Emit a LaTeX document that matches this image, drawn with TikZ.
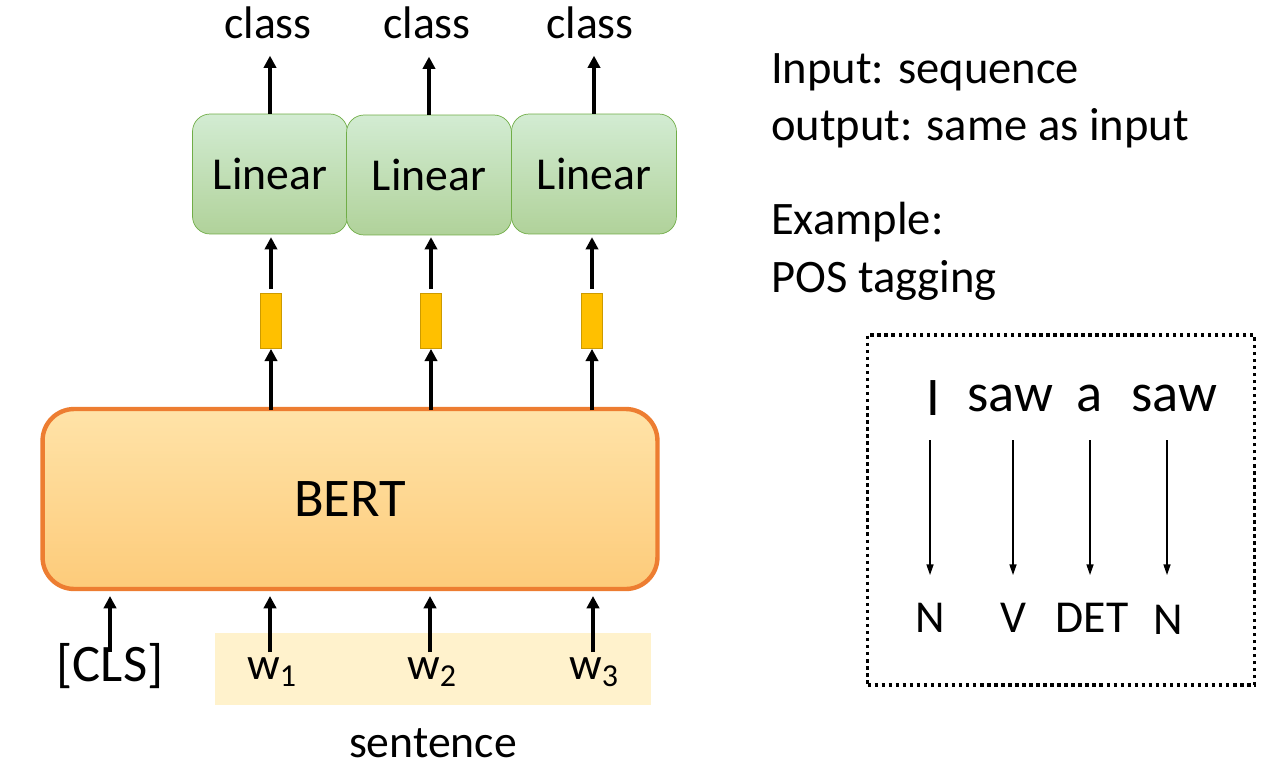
\documentclass[tikz,border=0pt]{standalone}
\usepackage{fontspec}
\setmainfont{Carlito}
\usetikzlibrary{arrows.meta}
\definecolor{borange}{HTML}{ED7D31}
\definecolor{lgreen}{HTML}{70AD47}
\definecolor{gold}{HTML}{FFC000}
\definecolor{beige}{HTML}{FFF2CC}
\definecolor{btop}{HTML}{FFE3A8}
\definecolor{bbot}{HTML}{FDCB7A}
\begin{document}
\begin{tikzpicture}[x=0.02cm,y=-0.02cm,
  arr/.style={line width=1.8pt,-{Triangle[length=7pt,width=7pt]}},
  thin arr/.style={line width=0.7pt,-{Triangle[length=6pt,width=4pt]}},
  lin/.style={draw=lgreen,rounded corners=10pt,top color=green!40!gray!25!white,bottom color=lgreen!55!white,minimum width=3.1cm,minimum height=2.4cm,font=\fontsize{26pt}{30pt}\selectfont,inner sep=0pt},
  vec/.style={draw=gold!80!black,fill=gold,minimum width=0.42cm,minimum height=1.1cm,inner sep=0pt},
  big/.style={font=\fontsize{26pt}{30pt}\selectfont},
  rt/.style={anchor=west,font=\fontsize{26.5pt}{31pt}\selectfont},
  pw/.style={font=\fontsize{31pt}{36pt}\selectfont},
  pt/.style={font=\fontsize{26pt}{30pt}\selectfont}]
\useasboundingbox (0,0) rectangle (1270,778);
% BERT
\node[draw=borange,line width=2.5pt,rounded corners=18pt,top color=btop,bottom color=bbot,minimum width=12.3cm,minimum height=3.6cm,font=\fontsize{31pt}{36pt}\selectfont] (bert) at (350,499) {BERT};
% sentence band
\node[fill=beige,minimum width=8.74cm,minimum height=1.44cm,inner sep=0pt] (band) at (433,669) {};
\node[font=\fontsize{30pt}{34pt}\selectfont] (cls) at (110,666) {[CLS]};
\node[big] (w1) at (272,672) {w\textsubscript{1}};
\node[big] (w2) at (432,672) {w\textsubscript{2}};
\node[big] (w3) at (594,672) {w\textsubscript{3}};
\node[big] (sent) at (433,743) {sentence};
\coordinate (c0) at (110,652);
\coordinate (c1) at (270,652);
\coordinate (c2) at (430,652);
\coordinate (c3) at (593,652);
\coordinate (b0) at (110,596);
\coordinate (b1) at (270,596);
\coordinate (b2) at (430,596);
\coordinate (b3) at (593,596);
\foreach \i in {0,...,3} \draw[arr] (c\i) -- (b\i);
% vectors
\node[vec] (v1) at (271,321) {};
\node[vec] (v2) at (431,321) {};
\node[vec] (v3) at (592,321) {};
\coordinate (t1) at (271,410);
\coordinate (t2) at (431,410);
\coordinate (t3) at (592,410);
% linears
\node[lin] (l1) at (270,174) {Linear};
\node[lin,minimum width=3.3cm] (l2) at (429,175) {Linear};
\node[lin,minimum width=3.3cm] (l3) at (594,174) {Linear};
\node[big] (k1) at (268,23) {class};
\node[big] (k2) at (427,23) {class};
\node[big] (k3) at (590,23) {class};
\foreach \i in {1,2,3} {
  \draw[arr] (t\i) -- (v\i.south);
  \draw[arr] (v\i.north) ++(0,-4) -- ++(0,-52);
  \draw[arr] (l\i.north) -- ++(0,-58);
}
% right text
\node[rt] (r1) at (765,72) {Input: sequence};
\node[rt] (r2) at (765,128) {output: same as input};
\node[rt] (r3) at (765,222) {Example:};
\node[rt] (r4) at (765,280) {POS tagging};
% dotted box
\node[draw,line width=2pt,dotted,minimum width=7.74cm,minimum height=7cm,inner sep=0pt] (box) at (1061,510) {};
\node[pw] (p1) at (933,398) {I};
\node[pw] (p2) at (1010,398) {saw};
\node[pw] (p3) at (1090,398) {a};
\node[pw] (p4) at (1174,398) {saw};
\node[pt] (q1) at (930,618) {N};
\node[pt] (q2) at (1013,618) {V};
\node[pt] (q3) at (1092,618) {DET};
\node[pt] (q4) at (1168,620) {N};
\coordinate (s1) at (930,440); \coordinate (e1) at (930,575);
\coordinate (s2) at (1013,440); \coordinate (e2) at (1013,575);
\coordinate (s3) at (1090,440); \coordinate (e3) at (1090,575);
\coordinate (s4) at (1167,440); \coordinate (e4) at (1167,575);
\foreach \i in {1,...,4} \draw[thin arr] (s\i) -- (e\i);
\end{tikzpicture}
\end{document}
